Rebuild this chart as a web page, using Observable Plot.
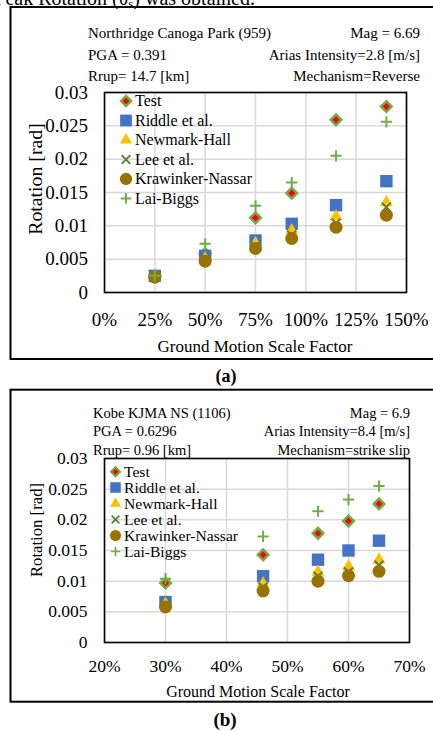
<!DOCTYPE html>
<html><head><meta charset="utf-8">
<script src="https://cdn.jsdelivr.net/npm/d3@7"></script>
<script src="https://cdn.jsdelivr.net/npm/@observablehq/plot@0.6"></script>
<style>
html,body{margin:0;padding:0;background:#fff;}
#page{position:relative;width:433px;height:731px;overflow:hidden;background:#fff;font-family:"Liberation Serif","Times New Roman",serif;}
.plot{position:absolute;left:0;}
.plot svg{display:block;max-width:none;}
#overlay{position:absolute;left:0;top:0;}
</style></head><body><div id="page"></div>
<script>
// ---------- data ----------
const seriesNames = ["Test","Riddle et al.","Newmark-Hall","Lee et al.","Krawinker-Nassar","Lai-Biggs"];

// Panel (a): Northridge Canoga Park (959)
const scaleFactorA = [0.25, 0.50, 0.75, 0.93, 1.15, 1.40];
const testA      = [0.0025, 0.0058, 0.0112, 0.0149, 0.0259, 0.0279];
const riddleA    = [0.0025, 0.0055, 0.0078, 0.0103, 0.0131, 0.0167];
const newmarkA   = [0.0024, 0.0051, 0.0074, 0.0093, 0.0114, 0.0135];
const leeA       = [0.0023, 0.0049, 0.0069, 0.0086, 0.0104, 0.0128];
const krawinkerA = [0.0023, 0.0047, 0.0066, 0.0081, 0.0098, 0.0116];
const laiBiggsA  = [0.0025, 0.0073, 0.0130, 0.0165, 0.0205, 0.0256];
const xTicksA = [0, 0.25, 0.5, 0.75, 1.0, 1.25, 1.5];
const xTickLabelsA = ["0%","25%","50%","75%","100%","125%","150%"];

// Panel (b): Kobe KJMA NS (1106)
const scaleFactorB = [0.30, 0.46, 0.55, 0.60, 0.65];
const testB      = [0.0097, 0.0143, 0.0178, 0.0198, 0.0226];
const riddleB    = [0.0066, 0.0108, 0.0135, 0.0150, 0.0166];
const newmarkB   = [0.0063, 0.0096, 0.0115, 0.0124, 0.0135];
const leeB       = [0.0061, 0.0090, 0.0108, 0.0115, 0.0126];
const krawinkerB = [0.0058, 0.0084, 0.0100, 0.0109, 0.0116];
const laiBiggsB  = [0.0104, 0.0173, 0.0214, 0.0233, 0.0255];
const xTicksB = [0.2, 0.3, 0.4, 0.5, 0.6, 0.7];
const xTickLabelsB = ["20%","30%","40%","50%","60%","70%"];

const yTicks = [0, 0.005, 0.01, 0.015, 0.02, 0.025, 0.03];
const yTickLabels = ["0","0.005","0.01","0.015","0.02","0.025","0.03"];

const headerA = {left:["Northridge Canoga Park (959)","PGA = 0.391","Rrup= 14.7 [km]"],
                 right:["Mag = 6.69","Arias Intensity=2.8 [m/s]","Mechanism=Reverse"]};
const headerB = {left:["Kobe KJMA NS (1106)","PGA = 0.6296","Rrup= 0.96 [km]"],
                 right:["Mag = 6.9","Arias Intensity=8.4 [m/s]","Mechanism=strike slip"]};
const xTitle = "Ground Motion Scale Factor";
const yTitle = "Rotation [rad]";

// ---------- styles ----------
const FONT = '"Liberation Serif","Times New Roman",serif';
const styles = [
  {symbol:"diamond2", fill:"#FF0000", stroke:"#70AD47", strokeWidth:2.5, r:4.8},
  {symbol:"square",   fill:"#4472C4", stroke:"none", strokeWidth:0, r:7},
  {symbol:"triangle", fill:"#FFC000", stroke:"none", strokeWidth:0, r:4.8},
  {symbol:"times",    fill:"none", stroke:"#548235", strokeWidth:2, r:4.2},
  {symbol:"circle",   fill:"#997300", stroke:"none", strokeWidth:0, r:6.5},
  {symbol:"plus",     fill:"none", stroke:"#70AD47", strokeWidth:2, r:3.7}
];
const d3Sym = {diamond2:d3.symbolDiamond2, square:d3.symbolSquare, triangle:d3.symbolTriangle,
               times:d3.symbolTimes, circle:d3.symbolCircle, plus:d3.symbolPlus};

const page = document.getElementById("page");

function panel({xs, values, xDomain, xTicks, xLabels, top, height, mt, mb, mr, tickFont, xPad, yPad}) {
  const rows = [];
  values.forEach((vals, i) => vals.forEach((v, j) => rows.push({series: i, x: xs[j], y: v})));
  const xl = new Map(xTicks.map((t, i) => [t, xLabels[i]]));
  const yl = new Map(yTicks.map((t, i) => [t, yTickLabels[i]]));
  const p = Plot.plot({
    width: 433, height, marginLeft: 104, marginRight: mr, marginTop: mt, marginBottom: mb,
    style: {fontFamily: FONT, background: "transparent", color: "#000"},
    x: {domain: xDomain},
    y: {domain: [0, 0.03]},
    marks: [
      Plot.gridX({ticks: xTicks, stroke: "#d9d9d9", strokeOpacity: 1, strokeWidth: 1.5}),
      Plot.gridY({ticks: yTicks, stroke: "#d9d9d9", strokeOpacity: 1, strokeWidth: 1.5}),
      Plot.frame({stroke: "#000", strokeWidth: 1.6}),
      ...styles.map((s, i) => Plot.dot(rows.filter(d => d.series === i), {
        x: "x", y: "y", symbol: s.symbol, fill: s.fill, stroke: s.stroke,
        strokeWidth: s.strokeWidth, r: s.r
      })),
      Plot.axisX({ticks: xTicks, tickSize: 0, tickPadding: xPad, fontSize: tickFont, label: null,
                  fontFamily: FONT, tickFormat: d => xl.get(d)}),
      Plot.axisY({ticks: yTicks, tickSize: 0, tickPadding: yPad, fontSize: tickFont, label: null,
                  fontFamily: FONT, tickFormat: d => yl.get(d)})
    ]
  });
  p.setAttribute("font-family", FONT);
  const wrap = document.createElement("div");
  wrap.className = "plot";
  wrap.style.top = top + "px";
  wrap.appendChild(p);
  page.appendChild(wrap);
  return p;
}

panel({xs: scaleFactorA, values: [testA, riddleA, newmarkA, leeA, krawinkerA, laiBiggsA],
  xDomain: [0, 1.5], xTicks: xTicksA, xLabels: xTickLabelsA,
  top: 0, height: 365, mt: 92, mb: 73, mr: 27, tickFont: 19, xPad: 19.5, yPad: 16.5});

panel({xs: scaleFactorB, values: [testB, riddleB, newmarkB, leeB, krawinkerB, laiBiggsB],
  xDomain: [0.2, 0.7], xTicks: xTicksB, xLabels: xTickLabelsB,
  top: 380, height: 330, mt: 78, mb: 68, mr: 24, tickFont: 17.5, xPad: 17.5, yPad: 17});

// ---------- overlay: borders, texts, legends ----------
const svg = d3.select(page).append("svg").attr("id", "overlay")
  .attr("width", 433).attr("height", 731)
  .attr("font-family", FONT);

svg.append("rect").attr("x", 10.5).attr("y", 7).attr("width", 440).attr("height", 352)
  .attr("fill", "none").attr("stroke", "#000").attr("stroke-width", 2);
svg.append("rect").attr("x", 10.5).attr("y", 389.7).attr("width", 440).attr("height", 312)
  .attr("fill", "none").attr("stroke", "#000").attr("stroke-width", 2);

function txt(x, y, s, size, anchor = "start", weight = "normal") {
  return svg.append("text").attr("x", x).attr("y", y).attr("font-size", size)
    .attr("font-family", FONT)
    .attr("text-anchor", anchor).attr("font-weight", weight).attr("fill", "#000").text(s);
}

// sentence from the surrounding page, cut off at the top edge as in the reference
const sentence = svg.append("text").attr("x", 255).attr("y", 4.5).attr("font-size", 20)
  .attr("text-anchor", "end").attr("fill", "#000");
sentence.append("tspan").text("Peak Rotation (θ");
sentence.append("tspan").attr("font-size", 13).attr("dy", 3).text("s");
sentence.append("tspan").attr("dy", -3).text(") was obtained.");

// headers
const baseA = [38, 60, 81];
headerA.left.forEach((s, i) => txt(88, baseA[i], s, 15));
headerA.right.forEach((s, i) => txt(420, baseA[i], s, 15, "end"));
const baseB = [418, 436, 455];
headerB.left.forEach((s, i) => txt(93, baseB[i], s, 14.5));
headerB.right.forEach((s, i) => txt(410, baseB[i], s, 14.5, "end"));

// axis titles
txt(255, 352, xTitle, 17, "middle");
txt(258, 697, xTitle, 16, "middle");
svg.append("text").attr("transform", "translate(41.5,179) rotate(-90)").attr("font-size", 19.8)
  .attr("text-anchor", "middle").text(yTitle);
svg.append("text").attr("transform", "translate(41.5,530) rotate(-90)").attr("font-size", 16.7)
  .attr("text-anchor", "middle").text(yTitle);

// panel labels
txt(226, 382, "(a)", 18, "middle", "bold");
txt(225, 726, "(b)", 19, "middle", "bold");

// legends
function legend(mx, tx, ys, size, scale) {
  seriesNames.forEach((name, i) => {
    const s = styles[i];
    const rr = s.r * scale;
    svg.append("path").attr("transform", `translate(${mx},${ys[i]})`)
      .attr("d", d3.symbol(d3Sym[s.symbol], Math.PI * rr * rr)())
      .attr("fill", s.fill).attr("stroke", s.stroke).attr("stroke-width", s.strokeWidth * scale);
    txt(tx, ys[i], name, size).attr("dy", "0.33em");
  });
}
legend(126, 135, [101, 120.5, 140, 159.5, 179, 198.5], 16, 0.95);
legend(115.5, 124, [471.7, 487.5, 503.5, 519.5, 535.5, 551.5], 15.6, 0.85);
</script></body></html>
